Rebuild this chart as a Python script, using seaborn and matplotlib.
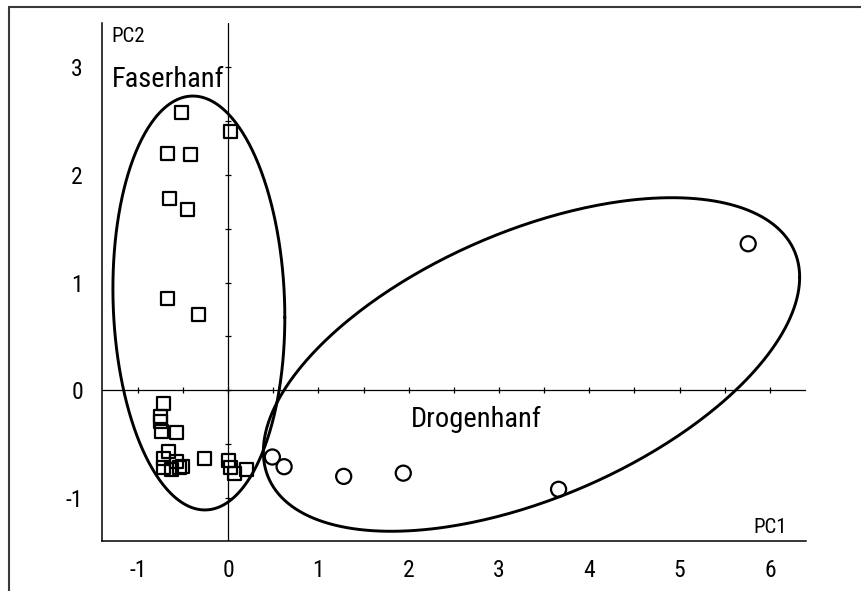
import numpy as np
import pandas as pd
import matplotlib
matplotlib.use("Agg")
import matplotlib.pyplot as plt
from matplotlib.lines import Line2D
from matplotlib import font_manager
import seaborn as sns

# ---- data ----
fas_x = [-0.52, 0.03, -0.675, -0.42, -0.645, -0.45, -0.67, -0.33,
         -0.72, -0.75, -0.745, -0.74, -0.57, -0.66, -0.72, -0.57,
         -0.50, -0.72, -0.63, -0.535, -0.26, 0.00, 0.03, 0.07, 0.20]
fas_y = [2.58, 2.40, 2.20, 2.19, 1.78, 1.68, 0.85, 0.70,
         -0.12, -0.24, -0.29, -0.385, -0.39, -0.57, -0.63, -0.66,
         -0.71, -0.72, -0.74, -0.72, -0.63, -0.65, -0.72, -0.77, -0.74]
dro_x = [0.49, 0.62, 1.28, 1.94, 3.66, 5.76]
dro_y = [-0.62, -0.71, -0.80, -0.77, -0.92, 1.36]

x_ticks = [-1, 0, 1, 2, 3, 4, 5, 6]
y_ticks = [-1, 0, 1, 2, 3]
x_minor = [-0.5, 0.5, 1.5, 2.5, 3.5, 4.5, 5.5]
y_minor = [-0.5, 0.5, 1.5, 2.5]

# ellipse parameters: centre, axis vectors (data units)
fas_ell = dict(cx=-0.324, cy=0.81, ux=0.952, uy=-0.134, vx=0.0, vy=1.917)
dro_ell = dict(cx=3.36, cy=0.239, ux=2.97, uy=0.81, vx=0.0, vy=1.32)

group_labels = ["Faserhanf", "Drogenhanf"]

# ---- style ----
sns.set_style("white")
installed = {f.name for f in font_manager.fontManager.ttflist}
fams = [f for f in ["Roboto Condensed", "Liberation Sans Narrow", "Liberation Sans"]
        if f in installed] + ["DejaVu Sans"]
plt.rcParams["font.family"] = fams
plt.rcParams["axes.unicode_minus"] = False
plt.rcParams["text.color"] = "black"
plt.rcParams["xtick.color"] = "black"
plt.rcParams["ytick.color"] = "black"

fig = plt.figure(figsize=(8.62, 5.91), dpi=100)
ax = fig.add_axes([0.118, 0.0846, 0.817, 0.8765])

df_f = pd.DataFrame({"x": fas_x, "y": fas_y})
df_d = pd.DataFrame({"x": dro_x, "y": dro_y})

sns.scatterplot(data=df_f, x="x", y="y", marker="s", s=88, facecolor="none",
                edgecolor="black", linewidth=1.6, ax=ax, zorder=4)
sns.scatterplot(data=df_d, x="x", y="y", marker="o", s=118, facecolor="none",
                edgecolor="black", linewidth=1.6, ax=ax, zorder=4)

t = np.linspace(0, 2 * np.pi, 400)
for e in (fas_ell, dro_ell):
    ex = e["cx"] + e["ux"] * np.cos(t) + e["vx"] * np.sin(t)
    ey = e["cy"] + e["uy"] * np.cos(t) + e["vy"] * np.sin(t)
    ax.plot(ex, ey, color="black", lw=2.1, zorder=3)

# zero lines
ax.axhline(0, color="black", lw=0.9, zorder=2)
ax.axvline(0, color="black", lw=0.9, zorder=2)
ax.plot(x_ticks + x_minor, [0] * (len(x_ticks) + len(x_minor)), ls="none",
        marker="|", ms=4, mew=0.9, color="black", zorder=2)
ax.plot([0] * (len(y_ticks) + len(y_minor)), y_ticks + y_minor, ls="none",
        marker="_", ms=4, mew=0.9, color="black", zorder=2)

ax.set_xlim(-1.40, 6.40)
ax.set_ylim(-1.40, 3.41)
ax.set_xticks(x_ticks)
ax.set_xticklabels([str(v) for v in x_ticks])
ax.set_yticks(y_ticks)
ax.set_yticklabels([str(v) for v in y_ticks])
ax.set_xticks(x_minor, minor=True)
ax.set_yticks(y_minor, minor=True)
ax.set_xlabel("")
ax.set_ylabel("")

for s in ("top", "right"):
    ax.spines[s].set_visible(False)
for s in ("left", "bottom"):
    ax.spines[s].set_color("black")
    ax.spines[s].set_linewidth(1.1)

ax.tick_params(axis="x", which="major", direction="out", length=8, width=2.2,
               labelsize=17, pad=5, color="black", labelcolor="black")
ax.tick_params(axis="x", which="minor", direction="out", length=3.6, width=2.2,
               color="black")
ax.tick_params(axis="y", which="major", direction="out", length=6.5, width=1.1,
               labelsize=17, pad=7, color="black", labelcolor="black")
ax.tick_params(axis="y", which="minor", direction="out", length=2.5, width=1.1,
               color="black")

ax.text(-1.288, 2.814, group_labels[0], fontsize=20.5, ha="left", va="baseline",
        color="black")
ax.text(2.02, -0.341, group_labels[1], fontsize=20.5, ha="left", va="baseline",
        color="black")
ax.text(-1.288, 3.233, "PC2", fontsize=15, ha="left", va="baseline", color="black")
ax.text(6.0, -1.325, "PC1", fontsize=15, ha="center", va="baseline", color="black")

# outer frame (top and left edges)
fx = 9 / 862
fy = 1 - 7 / 591
fig.add_artist(Line2D([fx, 1], [fy, fy], transform=fig.transFigure,
                      color="#3a3a3a", lw=1.5))
fig.add_artist(Line2D([fx, fx], [0, fy], transform=fig.transFigure,
                      color="#3a3a3a", lw=1.5))

fig.savefig("out.png", dpi=100)
